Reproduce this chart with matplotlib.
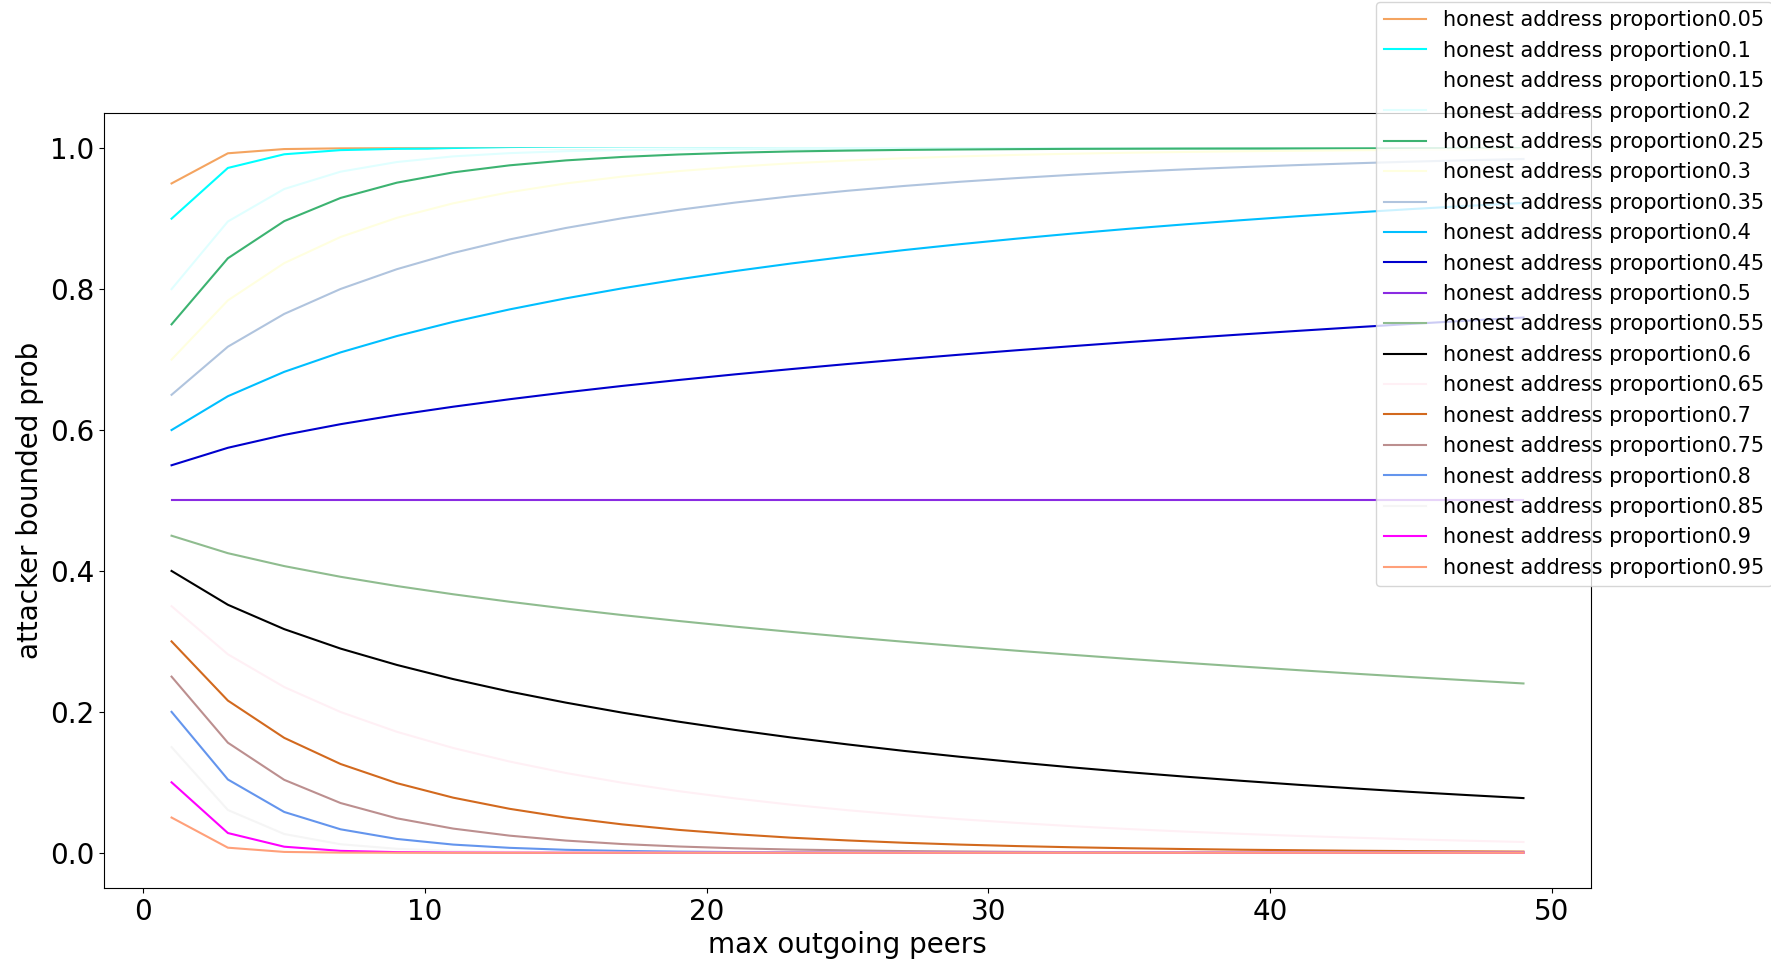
import matplotlib

matplotlib.use("Agg")
import matplotlib.pyplot as plt

# max outgoing peers (x axis)
peers = [1, 3, 5, 7, 9, 11, 13, 15, 17, 19, 21, 23, 25,
         27, 29, 31, 33, 35, 37, 39, 41, 43, 45, 47, 49]

proportions = ["0.05", "0.1", "0.15", "0.2", "0.25", "0.3", "0.35", "0.4", "0.45", "0.5",
               "0.55", "0.6", "0.65", "0.7", "0.75", "0.8", "0.85", "0.9", "0.95"]

colors = ["sandybrown", "aqua", "white", "lightcyan", "mediumseagreen", "lightyellow",
          "lightsteelblue", "deepskyblue", "mediumblue", "blueviolet", "darkseagreen",
          "black", "lavenderblush", "chocolate", "rosybrown", "cornflowerblue",
          "whitesmoke", "magenta", "lightsalmon"]

# attacker bounded prob, one list per honest address proportion
prob_005 = [0.95, 0.9928, 0.9988, 0.9998, 1.0, 1.0, 1.0, 1.0, 1.0, 1.0, 1.0, 1.0, 1.0,
            1.0, 1.0, 1.0, 1.0, 1.0, 1.0, 1.0, 1.0, 1.0, 1.0, 1.0, 1.0]
prob_010 = [0.9, 0.972, 0.9914, 0.9973, 0.9991, 0.9997, 0.9999, 1.0, 1.0, 1.0, 1.0, 1.0, 1.0,
            1.0, 1.0, 1.0, 1.0, 1.0, 1.0, 1.0, 1.0, 1.0, 1.0, 1.0, 1.0]
prob_015 = [0.85, 0.9393, 0.9734, 0.9879, 0.9944, 0.9973, 0.9987, 0.9994, 0.9997, 0.9999,
            0.9999, 1.0, 1.0, 1.0, 1.0, 1.0, 1.0, 1.0, 1.0, 1.0, 1.0, 1.0, 1.0, 1.0, 1.0]
prob_020 = [0.8, 0.896, 0.9421, 0.9667, 0.9804, 0.9884, 0.993, 0.9958, 0.9974, 0.9984,
            0.999, 0.9994, 0.9996, 0.9998, 0.9999, 0.9999, 0.9999, 1.0, 1.0, 1.0, 1.0, 1.0,
            1.0, 1.0, 1.0]
prob_025 = [0.75, 0.8438, 0.8965, 0.9294, 0.9511, 0.9657, 0.9757, 0.9827, 0.9876, 0.9911,
            0.9936, 0.9954, 0.9966, 0.9976, 0.9982, 0.9987, 0.9991, 0.9993, 0.9995, 0.9996,
            0.9997, 0.9998, 0.9999, 0.9999, 0.9999]
prob_030 = [0.7, 0.784, 0.8369, 0.874, 0.9012, 0.9218, 0.9376, 0.95, 0.9597, 0.9675,
            0.9736, 0.9786, 0.9825, 0.9858, 0.9884, 0.9905, 0.9922, 0.9936, 0.9947, 0.9957,
            0.9964, 0.9971, 0.9976, 0.998, 0.9984]
prob_035 = [0.65, 0.7183, 0.7648, 0.8002, 0.8283, 0.8513, 0.8705, 0.8868, 0.9006, 0.9125,
            0.9228, 0.9318, 0.9396, 0.9464, 0.9524, 0.9576, 0.9623, 0.9664, 0.97, 0.9732,
            0.9761, 0.9786, 0.9809, 0.9829, 0.9847]
prob_040 = [0.6, 0.648, 0.6826, 0.7102, 0.7334, 0.7535, 0.7712, 0.7869, 0.8011, 0.8139,
            0.8256, 0.8364, 0.8462, 0.8554, 0.8638, 0.8716, 0.8789, 0.8857, 0.892, 0.8979,
            0.9035, 0.9087, 0.9136, 0.9181, 0.9224]
prob_045 = [0.55, 0.5748, 0.5931, 0.6083, 0.6214, 0.6331, 0.6437, 0.6535, 0.6626, 0.671,
            0.679, 0.6865, 0.6937, 0.7005, 0.707, 0.7132, 0.7191, 0.7249, 0.7304, 0.7357,
            0.7408, 0.7458, 0.7506, 0.7552, 0.7597]
prob_050 = [0.5, 0.5, 0.5, 0.5, 0.5, 0.5, 0.5, 0.5, 0.5, 0.5, 0.5, 0.5, 0.5,
            0.5, 0.5, 0.5, 0.5, 0.5, 0.5, 0.5, 0.5, 0.5, 0.5, 0.5, 0.5]
prob_055 = [0.45, 0.4252, 0.4069, 0.3917, 0.3786, 0.3669, 0.3563, 0.3465, 0.3374, 0.329,
            0.321, 0.3135, 0.3063, 0.2995, 0.293, 0.2868, 0.2809, 0.2751, 0.2696, 0.2643,
            0.2592, 0.2542, 0.2494, 0.2448, 0.2403]
prob_060 = [0.4, 0.352, 0.3174, 0.2898, 0.2666, 0.2465, 0.2288, 0.2131, 0.1989, 0.1861,
            0.1744, 0.1636, 0.1538, 0.1446, 0.1362, 0.1284, 0.1211, 0.1143, 0.108, 0.1021,
            0.0965, 0.0913, 0.0864, 0.0819, 0.0776]
prob_065 = [0.35, 0.2817, 0.2352, 0.1998, 0.1717, 0.1487, 0.1295, 0.1132, 0.0994, 0.0875,
            0.0772, 0.0682, 0.0604, 0.0536, 0.0476, 0.0424, 0.0377, 0.0336, 0.03, 0.0268,
            0.0239, 0.0214, 0.0191, 0.0171, 0.0153]
prob_070 = [0.3, 0.216, 0.1631, 0.126, 0.0988, 0.0782, 0.0624, 0.05, 0.0403, 0.0325,
            0.0264, 0.0214, 0.0175, 0.0142, 0.0116, 0.0095, 0.0078, 0.0064, 0.0053, 0.0043,
            0.0036, 0.0029, 0.0024, 0.002, 0.0016]
prob_075 = [0.25, 0.1562, 0.1035, 0.0706, 0.0489, 0.0343, 0.0243, 0.0173, 0.0124, 0.0089,
            0.0064, 0.0046, 0.0034, 0.0024, 0.0018, 0.0013, 0.0009, 0.0007, 0.0005, 0.0004,
            0.0003, 0.0002, 0.0001, 0.0001, 0.0001]
prob_080 = [0.2, 0.104, 0.0579, 0.0333, 0.0196, 0.0116, 0.007, 0.0042, 0.0026, 0.0016,
            0.001, 0.0006, 0.0004, 0.0002, 0.0001, 0.0001, 0.0001, 0.0, 0.0, 0.0,
            0.0, 0.0, 0.0, 0.0, 0.0]
prob_085 = [0.15, 0.0607, 0.0266, 0.0121, 0.0056, 0.0027, 0.0013, 0.0006, 0.0003, 0.0001,
            0.0001, 0.0, 0.0, 0.0, 0.0, 0.0, 0.0, 0.0, 0.0, 0.0, 0.0, 0.0, 0.0, 0.0, 0.0]
prob_090 = [0.1, 0.028, 0.0086, 0.0027, 0.0009, 0.0003, 0.0001, 0.0, 0.0, 0.0, 0.0, 0.0, 0.0,
            0.0, 0.0, 0.0, 0.0, 0.0, 0.0, 0.0, 0.0, 0.0, 0.0, 0.0, 0.0]
prob_095 = [0.05, 0.0072, 0.0012, 0.0002, 0.0, 0.0, 0.0, 0.0, 0.0, 0.0, 0.0, 0.0, 0.0,
            0.0, 0.0, 0.0, 0.0, 0.0, 0.0, 0.0, 0.0, 0.0, 0.0, 0.0, 0.0]

series = [prob_005, prob_010, prob_015, prob_020, prob_025, prob_030, prob_035, prob_040,
          prob_045, prob_050, prob_055, prob_060, prob_065, prob_070, prob_075, prob_080,
          prob_085, prob_090, prob_095]

fig = plt.figure(figsize=(17.71, 9.69), dpi=100)
ax = fig.add_axes([0.0587, 0.0836, 0.8397, 0.7998])

for prop, values, color in zip(proportions, series, colors):
    ax.plot(peers, values, color=color, linewidth=1.5,
            label="honest address proportion" + prop)

ax.set_xlabel("max outgoing peers", fontsize=20)
ax.set_ylabel("attacker bounded prob", fontsize=20)
ax.tick_params(labelsize=20)
# legend sits outside the axes, partly cut off at the right edge
ax.legend(loc="upper left", bbox_to_anchor=(1376 / 1771, 1 - 2 / 969),
          bbox_transform=fig.transFigure, borderaxespad=0, fontsize=15)

fig.savefig("out.png", dpi=100)
